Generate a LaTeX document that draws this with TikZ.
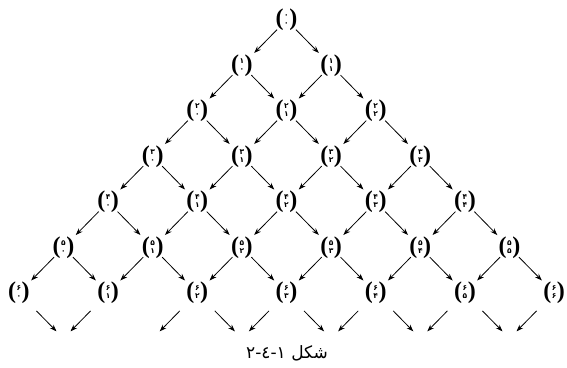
\documentclass[tikz,border=0pt]{standalone}
\usepackage{fontspec}
\usetikzlibrary{arrows.meta}
\newfontfamily\arabicfont[Script=Arabic]{DejaVu Sans}
\newfontfamily\parfont{Liberation Serif}
\TeXXeTstate=1
\newcommand\pdig[1]{\ifcase#1 ۰\or ۱\or ۲\or ۳\or ۴\or ۵\or ۶\fi}
\newcommand\bnm[2]{$\vcenter{\hbox{\parfont\bfseries\fontsize{24}{25}\selectfont (}}\mkern1mu\vcenter{\hbox{\arabicfont\bfseries\fontsize{7.5}{8}\selectfont\begin{tabular}{@{}c@{}}\pdig{#1}\\[0pt]\pdig{#2}\end{tabular}}}\mkern1mu\vcenter{\hbox{\parfont\bfseries\fontsize{24}{25}\selectfont )}}$}
\tikzset{
  bin/.style={inner sep=0pt},
  arr/.style={line width=0.8pt,-{Stealth[length=7pt,width=5pt]},shorten <=13.5pt,shorten >=17.5pt},
  barr/.style={line width=0.8pt,-{Stealth[length=7pt,width=5pt]},shorten <=25pt,shorten >=10pt},
  captext/.style={font=\arabicfont\fontsize{17}{19}\selectfont,inner sep=0pt}
}
\begin{document}
\begin{tikzpicture}[x=1pt,y=-1pt]
\useasboundingbox (0,0) rectangle (567,367);
\foreach \n in {0,...,6}{
  \foreach \k in {0,...,\n}{
    \node[bin] (n\n\k) at ({286.5+44.6*(2*\k-\n)},{20+45.5*\n}) {\bnm{\n}{\k}};
  }
}
\foreach \j in {1,...,6}{
  \coordinate (v7\j) at ({286.5+44.6*(2*\j-7)},{20+45.5*7});
}
\foreach \n in {0,...,5}{
  \foreach \k in {0,...,\n}{
    \pgfmathtruncatemacro\m{\n+1}
    \pgfmathtruncatemacro\kk{\k+1}
    \draw[arr] (n\n\k.center) -- (n\m\k.center);
    \draw[arr] (n\n\k.center) -- (n\m\kk.center);
  }
}
\draw[barr] (n60.center) -- (v71);
\draw[barr] (n61.center) -- (v71);
\draw[barr] (n62.center) -- (v72);
\draw[barr] (n62.center) -- (v73);
\draw[barr] (n63.center) -- (v73);
\draw[barr] (n63.center) -- (v74);
\draw[barr] (n64.center) -- (v74);
\draw[barr] (n64.center) -- (v75);
\draw[barr] (n65.center) -- (v75);
\draw[barr] (n65.center) -- (v76);
\draw[barr] (n66.center) -- (v76);
\node[captext] (caption) at (287,353) {\beginR شکل ١-٤-٢\endR};
\end{tikzpicture}
\end{document}
